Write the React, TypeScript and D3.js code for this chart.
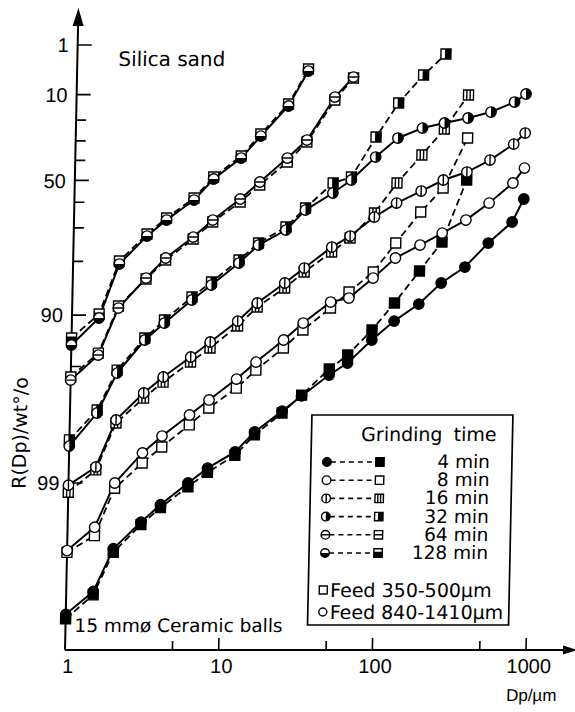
import * as d3 from "d3";

// sieve sizes (µm) shared by all series
const sizes = [1, 1.5, 2, 3, 4, 6, 8, 12, 16, 24, 32, 48, 63, 90, 125, 180, 250, 355, 500, 710, 840];

// R(Dp) in wt%, circles = feed 840-1410 µm, squares = feed 350-500 µm
const circle4 = [99.84, 99.78, 99.6, 99.42, 99.26, 99.0, 98.77, 98.46, 97.97, 97.29, 96.66, 95.55, 94.76, 92.84, 90.77, 88.44, 84.8, 81.37, 74.94, 67.9, 58.63];
const square4 = [99.85, 99.79, 99.62, 99.44, 99.29, 99.05, 98.84, 98.53, 98.05, 97.36, 96.62, 95.17, 94.16, 91.81, 88.28, 82.28, 74.63, 49.83];
const circle8 = [99.61, 99.46, 99.0, 98.48, 98.08, 97.43, 96.84, 95.79, 94.69, 92.84, 91.01, 88.13, 87.49, 83.8, 79.14, 75.54, 71.77, 67.17, 60.37, 51.28, 43.89];
const square8 = [99.62, 99.52, 99.07, 98.68, 98.35, 97.76, 97.17, 96.28, 95.24, 93.57, 91.81, 89.03, 86.47, 82.51, 74.94, 64.08, 53.66, 28.56];
const circle16 = [99.03, 98.75, 97.6, 96.52, 95.67, 94.31, 93.03, 90.77, 88.28, 84.8, 81.6, 76.13, 72.75, 66.04, 60.37, 55.04, 49.83, 45.89, 39.81, 31.6, 26.08];
const square16 = [99.12, 98.8, 97.7, 96.76, 95.96, 94.69, 93.57, 91.36, 88.89, 85.75, 82.51, 77.54, 73.39, 64.48, 51.28, 37.24, 24.14, 10.16];
const circle32 = [98.33, 97.36, 95.43, 92.84, 91.01, 87.81, 85.19, 80.41, 75.54, 70.75, 63.28, 55.96, 49.83, 38.26, 28.56, 23.67, 21.31, 19.05, 16.48, 12.57, 9.83];
const square32 = [98.18, 97.25, 95.24, 92.65, 90.64, 87.33, 84.61, 79.66, 74.94, 69.71, 62.44, 51.28, 48.36, 28.06, 12.94, 4.86, 1.73];
const circle64 = [95.85, 94.16, 89.03, 83.8, 79.14, 73.08, 67.17, 58.63, 50.8, 38.78, 29.57, 10.82, 5.28];
const square64 = [95.67, 94.0, 88.74, 84.0, 79.66, 73.71, 67.9, 59.93, 52.23, 40.83, 30.58, 11.85, 5.5];
const circle128 = [93.31, 90.39, 80.65, 72.75, 67.17, 59.07, 49.34, 38.78, 27.57, 14.07, 4.08];
const square128 = [92.65, 89.87, 79.92, 72.1, 66.42, 58.19, 48.36, 37.75, 26.57, 13.31, 3.72];

const times = ["4", "8", "16", "32", "64", "128"];
const markerKinds = ["filled", "open", "vline", "half", "hline", "low"];

const yMajor = [1, 10, 50, 90, 99];
const yMinor = [20, 30, 40, 60, 70, 80, 95];
const xMajor = [10, 100, 1000];
const xMinor = [5, 50, 500];
const xLabels = [1, 10, 100, 1000];

const series = [
  { circle: circle4, square: square4 },
  { circle: circle8, square: square8 },
  { circle: circle16, square: square16 },
  { circle: circle32, square: square32 },
  { circle: circle64, square: square64 },
  { circle: circle128, square: square128 },
].map((d, i) => ({ ...d, time: times[i], kind: markerKinds[i] }));

const SKEW = 1.2; // the scanned figure leans a little
const FONT = "DejaVu Sans, sans-serif";
const NUMFONT = "Liberation Sans, Arial, sans-serif";

function Marker({ kind, shape, cx, cy, s }: any) {
  const sw = 1.4;
  const els: any[] = [];
  if (shape === "c") {
    els.push(<circle key="b" cx={cx} cy={cy} r={s} fill={kind === "filled" ? "#000" : "#fff"} stroke="#000" strokeWidth={sw} />);
    if (kind === "vline") els.push(<line key="v" x1={cx} x2={cx} y1={cy - s} y2={cy + s} stroke="#000" strokeWidth={sw} />);
    if (kind === "hline") els.push(<line key="h" x1={cx - s} x2={cx + s} y1={cy} y2={cy} stroke="#000" strokeWidth={sw} />);
    if (kind === "half") els.push(<path key="p" d={`M${cx},${cy - s}A${s},${s} 0 0 1 ${cx},${cy + s}Z`} fill="#000" />);
    if (kind === "low") els.push(<path key="p" d={`M${cx - s},${cy}A${s},${s} 0 0 0 ${cx + s},${cy}Z`} fill="#000" />);
  } else {
    els.push(<rect key="b" x={cx - s} y={cy - s} width={2 * s} height={2 * s} fill={kind === "filled" ? "#000" : "#fff"} stroke="#000" strokeWidth={sw} />);
    if (kind === "vline") {
      els.push(<line key="v1" x1={cx - s / 3} x2={cx - s / 3} y1={cy - s} y2={cy + s} stroke="#000" strokeWidth={sw} />);
      els.push(<line key="v2" x1={cx + s / 3} x2={cx + s / 3} y1={cy - s} y2={cy + s} stroke="#000" strokeWidth={sw} />);
    }
    if (kind === "hline") els.push(<line key="h" x1={cx - s} x2={cx + s} y1={cy} y2={cy} stroke="#000" strokeWidth={sw} />);
    if (kind === "half") els.push(<rect key="p" x={cx - s * 0.2} y={cy - s} width={s * 1.2} height={2 * s} fill="#000" />);
    if (kind === "low") els.push(<rect key="p" x={cx - s} y={cy - s * 0.3} width={2 * s} height={s * 1.3} fill="#000" />);
  }
  return <g>{els}</g>;
}

export default function App() {
  const W = 575;
  const H = 712;
  const axisY = 650;
  const axisX = 65;

  const x = d3.scaleLog().domain([1, 1000]).range([65, 526]);
  const rr = (R: number) => Math.log10(Math.log(100 / R));
  const yr = d3.scaleLinear().domain([rr(1), rr(99)]).range([45, 483]);
  const y = (R: number) => yr(rr(R));
  const line = d3.line();

  const pts = (vals: number[]) => vals.map((v, i) => [x(sizes[i]), y(v)] as [number, number]);

  const legendRowY = (i: number) => 462 + i * 18.2;

  return (
    <svg width={W} height={H} style={{ position: "absolute", left: 0, top: 0, background: "#fff" }} fontFamily={FONT}>
      <rect width={W} height={H} fill="#fff" />
      <g transform={`translate(0,${axisY}) skewX(${-SKEW}) translate(0,${-axisY})`}>
        {/* axes */}
        <line x1={axisX} x2={axisX} y1={axisY} y2={22} stroke="#000" strokeWidth={2} />
        <path d={`M${axisX},8L${axisX - 5.5},26L${axisX + 5.5},26Z`} fill="#000" />
        <line x1={axisX} x2={564} y1={axisY} y2={axisY} stroke="#000" strokeWidth={2} />
        <path d={`M577,${axisY}L563,${axisY - 4.5}L563,${axisY + 4.5}Z`} fill="#000" />

        {yMajor.map((v) => (
          <g key={"ym" + v}>
            <line x1={axisX} x2={axisX + 14} y1={y(v)} y2={y(v)} stroke="#000" strokeWidth={1.7} />
            <text x={56} y={y(v)} dy="0.36em" textAnchor="end" fontSize={20} fontFamily={NUMFONT}>{v}</text>
          </g>
        ))}
        {yMinor.map((v) => (
          <line key={"yn" + v} x1={axisX} x2={axisX + 10} y1={y(v)} y2={y(v)} stroke="#000" strokeWidth={1.6} />
        ))}
        {xMajor.map((v) => (
          <line key={"xm" + v} x1={x(v)} x2={x(v)} y1={axisY} y2={axisY - 12} stroke="#000" strokeWidth={1.6} />
        ))}
        {xMinor.map((v) => (
          <line key={"xn" + v} x1={x(v)} x2={x(v)} y1={axisY} y2={axisY - 9} stroke="#000" strokeWidth={1.6} />
        ))}
        {xLabels.map((v) => (
          <text key={"xl" + v} x={x(v) + 3} y={673} textAnchor="middle" fontSize={20} fontFamily={NUMFONT}>{v}</text>
        ))}

        <text x={507} y={701} fontSize={17} fontFamily={NUMFONT}>Dp/µm</text>
        <text transform="translate(22,433) rotate(-90)" textAnchor="middle" fontSize={19}>R(Dp)/wt°/o</text>
        <text x={106} y={66} fontSize={20}>Silica sand</text>
        <text x={74} y={632} fontSize={18.5}>15 mmø Ceramic balls</text>

        {/* lines */}
        {series.map((s) => (
          <g key={"l" + s.time}>
            <path d={line(pts(s.square)) || ""} fill="none" stroke="#000" strokeWidth={1.8} strokeDasharray="7 4" />
            <path d={line(pts(s.circle)) || ""} fill="none" stroke="#000" strokeWidth={2} />
          </g>
        ))}
        {/* markers */}
        {series.map((s) => (
          <g key={"m" + s.time}>
            {pts(s.square).map(([px, py], i) => (
              <Marker key={"s" + i} kind={s.kind} shape="s" cx={px} cy={py} s={5} />
            ))}
            {pts(s.circle).map(([px, py], i) => (
              <Marker key={"c" + i} kind={s.kind} shape="c" cx={px} cy={py} s={5.2} />
            ))}
          </g>
        ))}

        {/* legend */}
        <rect x={307} y={415} width={201} height={210} fill="#fff" stroke="#000" strokeWidth={1.7} />
        <text x={492} y={441} textAnchor="end" fontSize={19} wordSpacing={5}>Grinding time</text>
        {series.map((s, i) => (
          <g key={"lg" + s.time}>
            <line x1={327} x2={372} y1={legendRowY(i)} y2={legendRowY(i)} stroke="#000" strokeWidth={1.6} strokeDasharray="5 4" />
            <Marker kind={s.kind} shape="c" cx={323} cy={legendRowY(i)} s={4.3} />
            <Marker kind={s.kind} shape="s" cx={376} cy={legendRowY(i)} s={4.2} />
            <text x={486} y={legendRowY(i) + 6} textAnchor="end" fontSize={18.5}>{s.time} min</text>
          </g>
        ))}
        <Marker kind="open" shape="s" cx={322} cy={590} s={4} />
        <text x={329} y={597} fontSize={19}>Feed 350-500µm</text>
        <Marker kind="open" shape="c" cx={322} cy={612} s={4} />
        <text x={329} y={619} fontSize={19}>Feed 840-1410µm</text>
      </g>
    </svg>
  );
}
